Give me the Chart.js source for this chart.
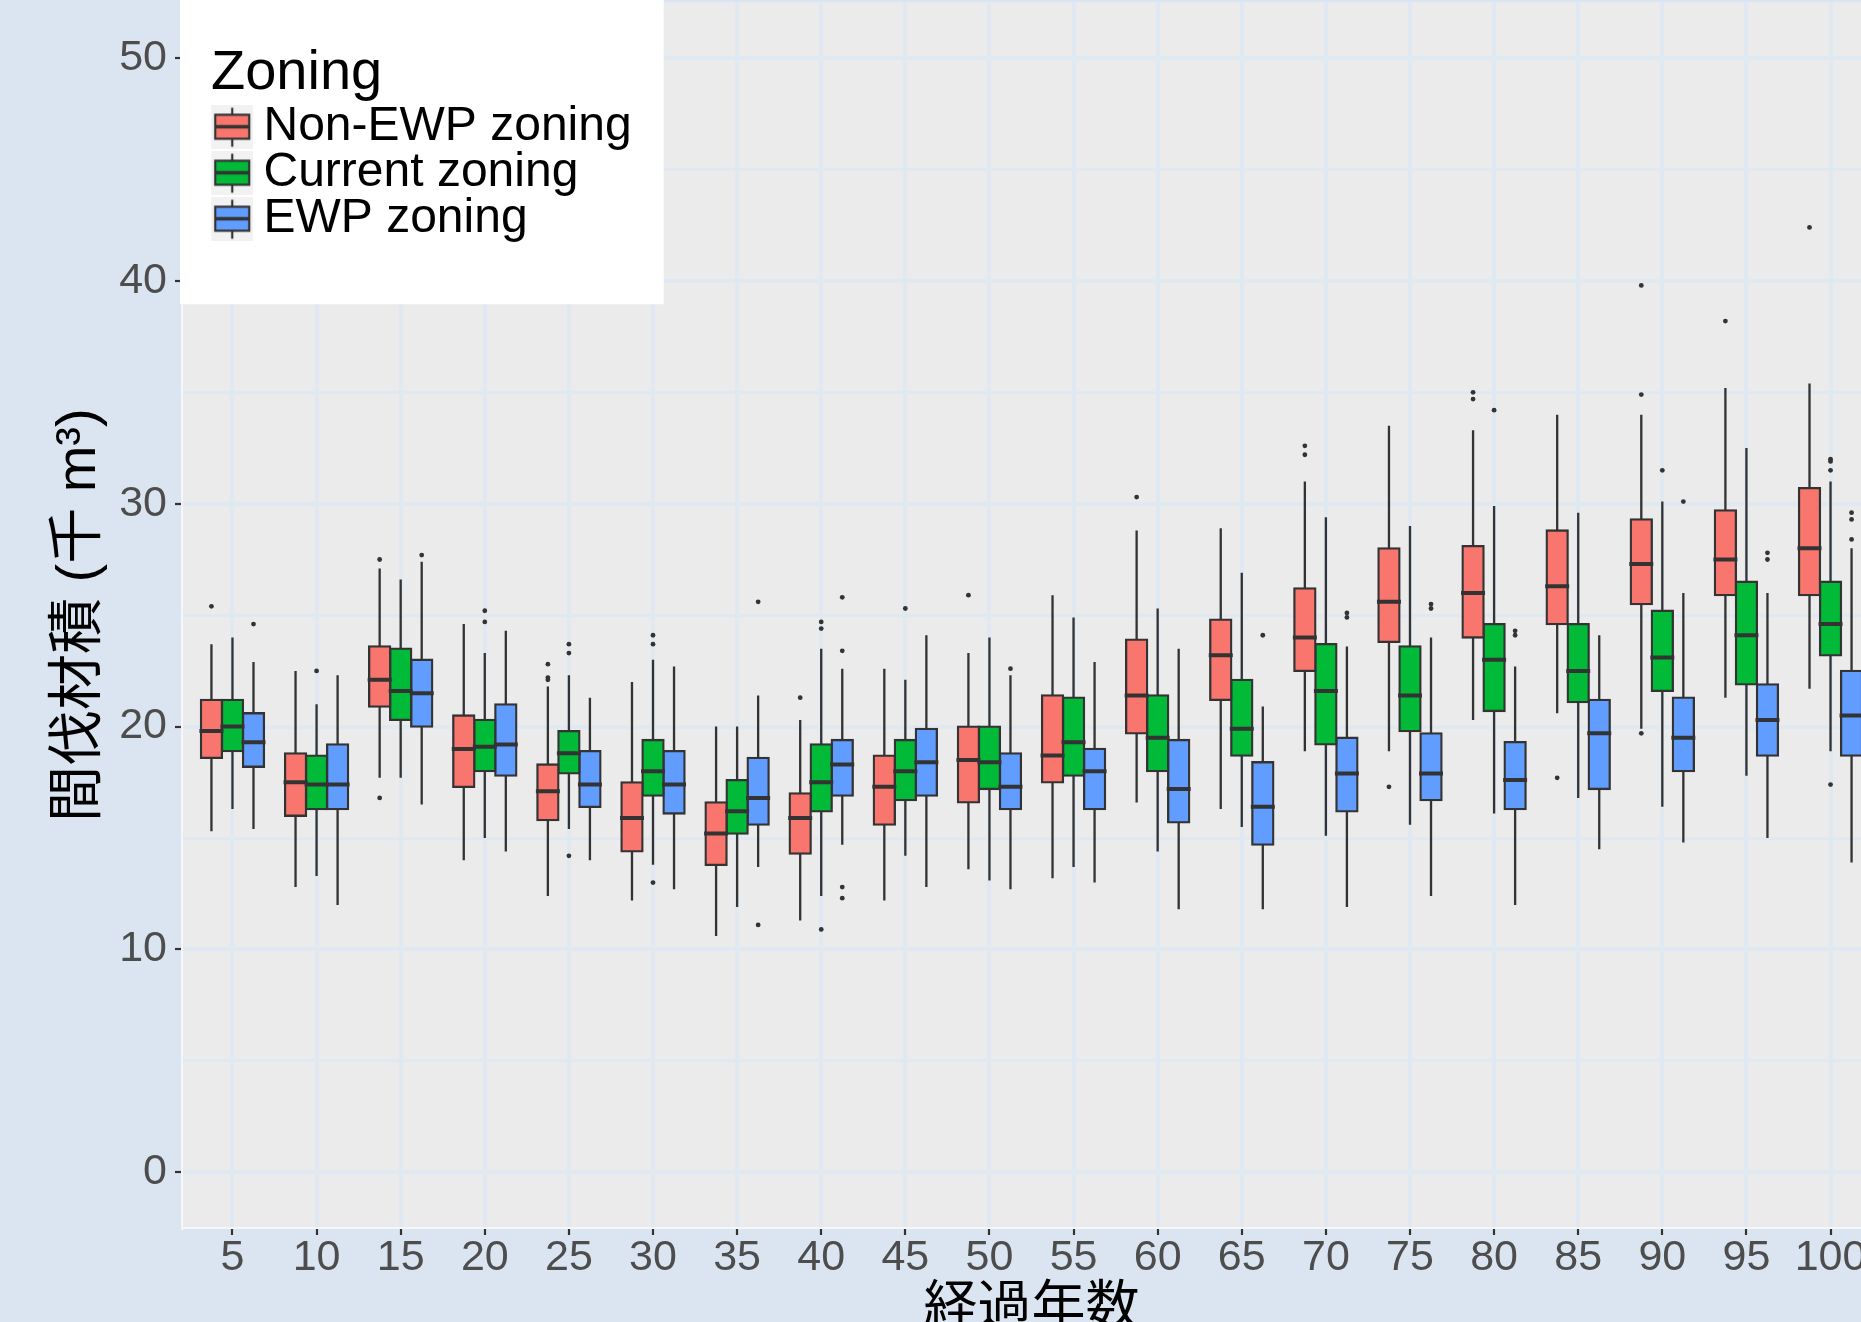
<!DOCTYPE html>
<html>
<head>
<meta charset="utf-8">
<script src="https://cdn.jsdelivr.net/npm/chart.js@4.4.1/dist/chart.umd.min.js"></script>
<style>
  html, body { margin: 0; padding: 0; width: 1861px; height: 1322px; overflow: hidden; background: #dbe5f1; }
  #wrap { width: 1900px; height: 1400px; }
</style>
</head>
<body>
<div id="wrap"><canvas id="chart" width="1900" height="1400"></canvas></div>
<script>
const years = ['5', '10', '15', '20', '25', '30', '35', '40', '45', '50', '55', '60', '65', '70', '75', '80', '85', '90', '95', '100'];
const yMajorTicks = [0, 10, 20, 30, 40, 50];
const yMinorTicks = [5, 15, 25, 35, 45];

// Non-EWP zoning
const nonEwpLow = [15.3, 12.8, 17.7, 14.0, 12.4, 12.2, 10.6, 11.3, 12.2, 13.6, 13.2, 16.6, 16.3, 18.9, 18.9, 20.3, 20.6, 19.9, 21.3, 21.7];
const nonEwpQ1 = [18.6, 16.0, 20.9, 17.3, 15.8, 14.4, 13.8, 14.3, 15.6, 16.6, 17.5, 19.7, 21.2, 22.5, 23.8, 24.0, 24.6, 25.5, 25.9, 25.9];
const nonEwpMedian = [19.8, 17.5, 22.1, 19.0, 17.1, 15.9, 15.2, 15.9, 17.3, 18.5, 18.7, 21.4, 23.2, 24.0, 25.6, 26.0, 26.3, 27.3, 27.5, 28.0];
const nonEwpQ3 = [21.2, 18.8, 23.6, 20.5, 18.3, 17.5, 16.6, 17.0, 18.7, 20.0, 21.4, 23.9, 24.8, 26.2, 28.0, 28.1, 28.8, 29.3, 29.7, 30.7];
const nonEwpHigh = [23.7, 22.5, 27.1, 24.6, 21.8, 22.0, 20.0, 20.3, 22.6, 23.3, 25.9, 28.8, 28.9, 31.0, 33.5, 33.3, 34.0, 34.0, 35.2, 35.4];
const nonEwpOutliers = [[25.4], [], [27.5, 16.8], [], [22.8, 22.2, 22.1], [], [], [21.3], [], [25.9], [], [30.3], [], [32.6, 32.2], [17.3], [35.0, 34.7], [17.7], [39.8, 34.9, 19.7], [38.2], [42.4]];

// Current zoning
const currentLow = [16.3, 13.3, 17.7, 15.0, 15.4, 13.8, 11.9, 12.4, 14.2, 13.1, 13.7, 14.4, 15.5, 15.1, 15.6, 16.1, 16.8, 16.4, 17.8, 18.9];
const currentQ1 = [18.9, 16.3, 20.3, 18.0, 17.9, 16.9, 15.2, 16.2, 16.7, 17.2, 17.8, 18.0, 18.7, 19.2, 19.8, 20.7, 21.1, 21.6, 21.9, 23.2];
const currentMedian = [20.0, 17.4, 21.6, 19.1, 18.8, 18.0, 16.2, 17.5, 18.0, 18.4, 19.3, 19.5, 19.9, 21.6, 21.4, 23.0, 22.5, 23.1, 24.1, 24.6];
const currentQ3 = [21.2, 18.7, 23.5, 20.3, 19.8, 19.4, 17.6, 19.2, 19.4, 20.0, 21.3, 21.4, 22.1, 23.7, 23.6, 24.6, 24.6, 25.2, 26.5, 26.5];
const currentHigh = [24.0, 21.0, 26.6, 23.3, 22.3, 23.0, 20.0, 23.5, 22.1, 24.0, 24.9, 25.3, 26.9, 29.4, 29.0, 29.9, 29.6, 30.1, 32.5, 31.0];
const currentOutliers = [[], [22.5], [], [25.2, 24.7], [23.7, 23.3, 14.2], [24.1, 23.7, 13.0], [], [24.7, 24.4, 10.9], [25.3], [], [], [], [], [], [], [34.2], [], [31.5], [], [32.0, 31.9, 31.5, 17.4]];

// EWP zoning
const ewpLow = [15.4, 12.0, 16.5, 14.4, 14.0, 12.7, 13.7, 14.7, 12.8, 12.7, 13.0, 11.8, 11.8, 11.9, 12.4, 12.0, 14.5, 14.8, 15.0, 13.9];
const ewpQ1 = [18.2, 16.3, 20.0, 17.8, 16.4, 16.1, 15.6, 16.9, 16.9, 16.3, 16.3, 15.7, 14.7, 16.2, 16.7, 16.3, 17.2, 18.0, 18.7, 18.7];
const ewpMedian = [19.3, 17.4, 21.5, 19.2, 17.4, 17.4, 16.8, 18.3, 18.4, 17.3, 18.0, 17.2, 16.4, 17.9, 17.9, 17.6, 19.7, 19.5, 20.3, 20.5];
const ewpQ3 = [20.6, 19.2, 23.0, 21.0, 18.9, 18.9, 18.6, 19.4, 19.9, 18.8, 19.0, 19.4, 18.4, 19.5, 19.7, 19.3, 21.2, 21.3, 21.9, 22.5];
const ewpHigh = [22.9, 22.3, 27.4, 24.3, 21.3, 22.7, 21.4, 22.6, 24.1, 22.3, 22.9, 23.5, 20.9, 23.6, 24.0, 22.7, 24.1, 26.0, 26.0, 28.0];
const ewpOutliers = [[24.6], [], [27.7], [], [], [], [25.6, 11.1], [25.8, 23.4, 12.8, 12.3], [], [22.6], [], [], [24.1], [25.1, 24.9], [25.5, 25.3], [24.3, 24.1], [], [30.1], [27.8, 27.5], [29.6, 29.3, 28.4]];

const series = [
  { name: 'Non-EWP zoning', color: '#f8766d', low: nonEwpLow, q1: nonEwpQ1, med: nonEwpMedian, q3: nonEwpQ3, high: nonEwpHigh, out: nonEwpOutliers },
  { name: 'Current zoning', color: '#00ba38', low: currentLow, q1: currentQ1, med: currentMedian, q3: currentQ3, high: currentHigh, out: currentOutliers },
  { name: 'EWP zoning', color: '#619cff', low: ewpLow, q1: ewpQ1, med: ewpMedian, q3: ewpQ3, high: ewpHigh, out: ewpOutliers }
];

const latin = '"Liberation Sans", Arial, sans-serif';
const mixed = '"Liberation Sans", "Noto Sans CJK JP", sans-serif';
const ink = '#333333';
const gridBlue = '#e0e8f2';
const groupWidth = 0.75;        // share of a category taken by the three boxes
const panelLeft = 182;
const panelBottom = 1228;
const legendShift = 29;         // legend title sits indented from the panel edge

Chart.defaults.font.family = latin;

function rangeData(a, b) {
  return years.map((_, i) => ({ x: i + 1, y: [a[i], b[i]] }));
}

// legend key: grey square with a small box-and-whisker glyph
function legendIcon(fill) {
  const c = document.createElement('canvas');
  c.width = 58;
  c.height = 44;
  const g = c.getContext('2d');
  const x0 = 16;
  g.fillStyle = '#f2f2f2';
  g.fillRect(x0, 0, 42, 44);
  g.strokeStyle = ink;
  g.lineWidth = 2.2;
  g.beginPath();
  g.moveTo(x0 + 21, 2.5);
  g.lineTo(x0 + 21, 41.5);
  g.stroke();
  g.fillStyle = fill;
  g.fillRect(x0 + 4, 9.5, 34, 24);
  g.strokeRect(x0 + 4, 9.5, 34, 24);
  g.lineWidth = 3.6;
  g.beginPath();
  g.moveTo(x0 + 4, 21.5);
  g.lineTo(x0 + 38, 21.5);
  g.stroke();
  return c;
}

const datasets = [];
series.forEach((s, k) => {
  const stack = 'grp' + k;
  datasets.push({
    type: 'bar', label: s.name + ' whisker', stack, order: 3,
    data: rangeData(s.low, s.high),
    backgroundColor: ink, borderWidth: 0,
    categoryPercentage: groupWidth, barPercentage: 0.11, inflateAmount: 0
  });
  datasets.push({
    type: 'bar', label: s.name, stack, order: 2,
    data: rangeData(s.q1, s.q3),
    backgroundColor: s.color, borderColor: ink, borderWidth: 2.3, borderSkipped: false,
    categoryPercentage: groupWidth, barPercentage: 1, inflateAmount: 1.15
  });
  datasets.push({
    type: 'bar', label: s.name + ' median', stack, order: 1,
    data: rangeData(s.med, s.med),
    backgroundColor: ink, borderWidth: 0,
    categoryPercentage: groupWidth, barPercentage: 0.95, inflateAmount: 2
  });
  const dodge = (k - 1) * groupWidth / 3;
  const pts = [];
  s.out.forEach((list, i) => list.forEach(v => pts.push({ x: i + 1 + dodge, y: v })));
  datasets.push({
    type: 'scatter', label: s.name + ' outliers', order: 0,
    data: pts,
    pointRadius: 2.4, pointBackgroundColor: ink, pointBorderWidth: 0, pointHoverRadius: 2.4
  });
});

const backdrop = {
  id: 'backdrop',
  afterLayout(chart) {
    chart.legend.left += legendShift;
    chart.legend.right += legendShift;
  },
  beforeDraw(chart) {
    const { ctx, chartArea: a } = chart;
    ctx.save();
    ctx.fillStyle = '#dbe5f1';
    ctx.fillRect(0, 0, chart.width, chart.height);
    ctx.fillStyle = '#ebebeb';
    ctx.fillRect(a.left, a.top, a.right - a.left, a.bottom - a.top);
    ctx.restore();
  },
  afterDraw(chart) {
    // white legend panel over the grid, then the legend again on top
    const { ctx, chartArea: a, legend } = chart;
    const boxes = legend.legendHitBoxes;
    const right = legend.left + legend.options.labels.padding + Math.max(...boxes.map(b => b.width)) + 32;
    const bottom = Math.max(...boxes.map(b => b.top + b.height)) + 61;
    ctx.save();
    ctx.fillStyle = '#ffffff';
    ctx.fillRect(a.left - 2, 0, right - a.left + 2, bottom);
    ctx.restore();
    legend.draw();
  }
};

const isMinor = (c) => c.tick && yMinorTicks.includes(c.tick.value);

new Chart(document.getElementById('chart'), {
  type: 'bar',
  data: { datasets },
  plugins: [backdrop],
  options: {
    responsive: false,
    animation: false,
    devicePixelRatio: 1,
    layout: { padding: { top: 0, right: 19, bottom: 0, left: 0 } },
    scales: {
      x: {
        type: 'linear',
        min: 0.4,
        max: 20.6,
        offset: false,
        afterBuildTicks: (s) => { s.ticks = years.map((_, i) => ({ value: i + 1 })); },
        afterFit: (s) => {
          s.height = s.chart.height - panelBottom;
          s.paddingLeft = 0;
          s.paddingRight = 0;
        },
        grid: { offset: false, color: gridBlue, lineWidth: 4, tickColor: ink, tickWidth: 2.2, tickLength: 7 },
        border: { display: true, color: '#f4f6f8', width: 2 },
        ticks: {
          autoSkip: false, maxRotation: 0, minRotation: 0, padding: 2,
          color: '#4d4d4d', font: { size: 43, lineHeight: 1 },
          callback: (v) => years[v - 1]
        },
        title: {
          display: true, text: '経過年数', color: '#000000',
          font: { family: '"Noto Sans CJK JP", sans-serif', size: 54 },
          padding: { top: 0, bottom: 63 }
        }
      },
      y: {
        min: -2.5,
        max: 52.5,
        stacked: false,
        afterBuildTicks: (s) => {
          s.ticks = yMajorTicks.concat(yMinorTicks).sort((a, b) => a - b).map(v => ({ value: v }));
        },
        afterFit: (s) => {
          s.width = panelLeft;
          s.paddingTop = 0;
          s.paddingBottom = 0;
        },
        grid: {
          color: gridBlue,
          lineWidth: (c) => isMinor(c) ? 3 : 4,
          tickColor: (c) => isMinor(c) ? 'rgba(0,0,0,0)' : ink,
          tickWidth: 2.2,
          tickLength: 7
        },
        border: { display: true, color: '#f4f6f8', width: 2 },
        ticks: {
          padding: 8, color: '#4d4d4d', font: { size: 43 },
          callback: (v) => yMajorTicks.includes(v) ? String(v) : ''
        },
        title: {
          display: true, text: '間伐材積 (千 m³)', color: '#000000',
          font: { family: mixed, size: 56 },
          padding: { top: 46, bottom: 0 }
        }
      }
    },
    plugins: {
      tooltip: { enabled: false },
      legend: {
        position: 'chartArea',
        align: 'start',
        title: {
          display: true, text: 'Zoning', color: '#000000', position: 'start',
          font: { size: 56 },
          padding: { top: 45.5, bottom: -7.5 }
        },
        labels: {
          color: '#000000',
          font: { size: 48 },
          padding: -2,
          usePointStyle: true,
          pointStyleWidth: 30.5,
          generateLabels: () => series.map((s, k) => ({
            text: s.name,
            fillStyle: s.color,
            strokeStyle: ink,
            lineWidth: 0,
            fontColor: '#000000',
            pointStyle: legendIcon(s.color),
            hidden: false,
            datasetIndex: k * 4 + 1
          }))
        }
      }
    }
  }
});
</script>
</body>
</html>
